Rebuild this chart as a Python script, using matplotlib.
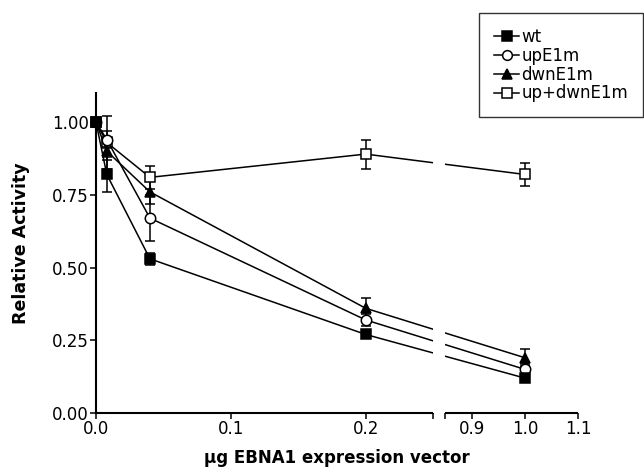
import numpy as np
import matplotlib
matplotlib.use("Agg")
import matplotlib.pyplot as plt
from matplotlib.lines import Line2D

plt.rcParams["font.family"] = ["DejaVu Sans"]

# doses (5-fold dilution series), µg of vector
dose = [0.0, 0.008, 0.04, 0.2, 1.0]

wt = [1.00, 0.82, 0.53, 0.27, 0.12]
wt_err = [0.0, 0.06, 0.02, 0.01, 0.01]
up = [1.00, 0.94, 0.67, 0.32, 0.15]
up_err = [0.0, 0.03, 0.08, 0.02, 0.02]
dwn = [1.00, 0.90, 0.76, 0.36, 0.19]
dwn_err = [0.0, 0.03, 0.04, 0.035, 0.03]
updwn = [1.00, 0.93, 0.81, 0.89, 0.82]
updwn_err = [0.0, 0.09, 0.04, 0.05, 0.04]

labels = ["wt", "upE1m", "dwnE1m", "up+dwnE1m"]
xticks = [0.0, 0.1, 0.2, 0.9, 1.0, 1.1]
xticklabels = ["0.0", "0.1", "0.2", "0.9", "1.0", "1.1"]
yticks = [0.0, 0.25, 0.5, 0.75, 1.0]
yticklabels = ["0.00", "0.25", "0.50", "0.75", "1.00"]

# broken x axis: 0..0.25 | gap | 0.85..1.1 (compressed)
LO, HI = 0.25, 0.85
GAP = 0.009
R = 0.394
XMAX = 1.1


def fwd(x):
    x = np.asarray(x, dtype=float)
    return np.where(x <= LO, x,
                    np.where(x >= HI, LO + GAP + (x - HI) * R,
                             LO + (x - LO) / (HI - LO) * GAP))


def inv(u):
    u = np.asarray(u, dtype=float)
    return np.where(u <= LO, u,
                    np.where(u >= LO + GAP, HI + (u - LO - GAP) / R,
                             LO + (u - LO) / GAP * (HI - LO)))


fig = plt.figure(figsize=(6.44, 4.73), dpi=100)
ax = fig.add_axes([96 / 644, 1 - 413 / 473, 482 / 644, 320 / 473])
ax.set_xscale("function", functions=(fwd, inv))

series = [
    (wt, wt_err, dict(marker="s", mfc="black")),
    (up, up_err, dict(marker="o", mfc="white")),
    (dwn, dwn_err, dict(marker="^", mfc="black")),
    (updwn, updwn_err, dict(marker="s", mfc="white")),
]
# wt drawn on top, as in the original
for i, (vals, err, style) in enumerate(series):
    ax.errorbar(dose, vals, yerr=err, color="black", lw=1.1, elinewidth=1.1,
                capsize=3.5, capthick=1.1, mec="black", mew=1.1, ms=7.5,
                clip_on=False, zorder=3.4 - 0.1 * i, **style)

# blank the lines across the axis break
ax.axvspan(LO, HI, color="white", zorder=4, lw=0)

ax.set_xlim(0, XMAX)
ax.set_ylim(0, 1.1)

for s in ["top", "right"]:
    ax.spines[s].set_visible(False)
ax.spines["left"].set_linewidth(1.5)
ax.spines["bottom"].set_linewidth(1.5)
ax.spines["bottom"].set_bounds(0, LO)
ax.hlines(0, HI, XMAX, color="black", lw=1.5, clip_on=False, zorder=5)

ax.set_xticks(xticks)
ax.set_xticklabels(xticklabels)
ax.set_xticks([LO, HI], minor=True)
ax.set_yticks(yticks)
ax.set_yticklabels(yticklabels)
ax.tick_params(axis="both", which="major", length=4, width=1.1, pad=1, labelsize=12)
ax.tick_params(axis="x", which="minor", length=4, width=1.1)

ax.set_ylabel("Relative Activity", fontsize=12.5, fontweight="bold")
ax.yaxis.set_label_coords(-0.137, 0.53)
ax.set_xlabel("μg EBNA1 expression vector", fontsize=12, fontweight="bold")
ax.xaxis.set_label_coords(0.5, -0.112)

handles = [Line2D([], [], color="black", lw=1.1, mec="black", mew=1.1, ms=7, **st)
           for _, _, st in series]
fig.legend(handles, labels, loc="upper left", bbox_to_anchor=(479 / 644, 1 - 13 / 473),
           bbox_transform=fig.transFigure, frameon=True, fancybox=False,
           edgecolor="black", fontsize=12, handlelength=1.5, handletextpad=0.15,
           labelspacing=0.05, borderpad=0.9, borderaxespad=0)

fig.savefig("out.png", dpi=100)
